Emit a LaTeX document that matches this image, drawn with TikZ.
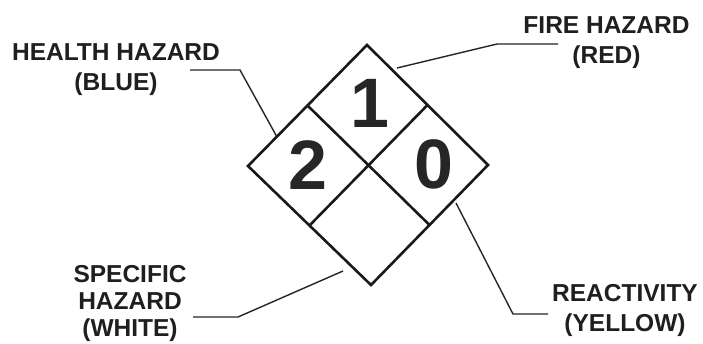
\documentclass[tikz,border=0pt]{standalone}
\usepackage{fontspec}
\setmainfont{Liberation Sans}
\usetikzlibrary{calc}
\begin{document}
\begin{tikzpicture}[x=1pt,y=-1pt,
  lbl/.style={font=\bfseries\fontsize{24.5}{30}\selectfont, align=center, text=black!88, inner sep=0pt},
  digit/.style={font=\bfseries\fontsize{70}{70}\selectfont, text=black!85, inner sep=0pt},
  frame/.style={line width=2.6pt, line join=miter, draw=black!90},
  leader/.style={line width=1.4pt, draw=black!85, line join=miter}]
\useasboundingbox (0,0) rectangle (703,343);
\fill[white] (0,0) rectangle (703,343);
% diamond corners
\coordinate (T) at (367,45);
\coordinate (L) at (248,166);
\coordinate (R) at (488,165);
\coordinate (B) at (371,285);
\coordinate (mTL) at ($(T)!0.5!(L)$);
\coordinate (mTR) at ($(T)!0.5!(R)$);
\coordinate (mBL) at ($(B)!0.5!(L)$);
\coordinate (mBR) at ($(B)!0.5!(R)$);
\draw[frame] (T) -- (R) -- (B) -- (L) -- cycle;
\draw[frame] (mTL) -- (mBR);
\draw[frame] (mTR) -- (mBL);
% digits
\node[digit] (one) at (370,103) {1};
\node[digit] (two) at (308,165) {2};
\node[digit] (zero) at (434,164) {0};
% labels
\node[lbl] (health) at (116,69.5) {HEALTH HAZARD\\(BLUE)};
\node[lbl] (fire) at (606.5,42.5) {FIRE HAZARD\\(RED)};
\node[lbl, font=\bfseries\fontsize{24.5}{27}\selectfont] (specific) at (130,303.5) {SPECIFIC\\HAZARD\\(WHITE)};
\node[lbl] (react) at (625,310.5) {REACTIVITY\\(YELLOW)};
% leader coordinates
\coordinate (hS) at (190,70);
\coordinate (hK) at (240,70);
\coordinate (hE) at (277,137);
\coordinate (fS) at (558,44);
\coordinate (fK) at (497,44);
\coordinate (fE) at (397,68);
\coordinate (sS) at (193,317);
\coordinate (sK) at (238,317);
\coordinate (sE) at (343,271);
\coordinate (rS) at (548,314);
\coordinate (rK) at (513,314);
\coordinate (rE) at (456,203);
\draw[leader] (hS) -- (hK) -- (hE);
\draw[leader] (fS) -- (fK) -- (fE);
\draw[leader] (sS) -- (sK) -- (sE);
\draw[leader] (rS) -- (rK) -- (rE);
\end{tikzpicture}
\end{document}
